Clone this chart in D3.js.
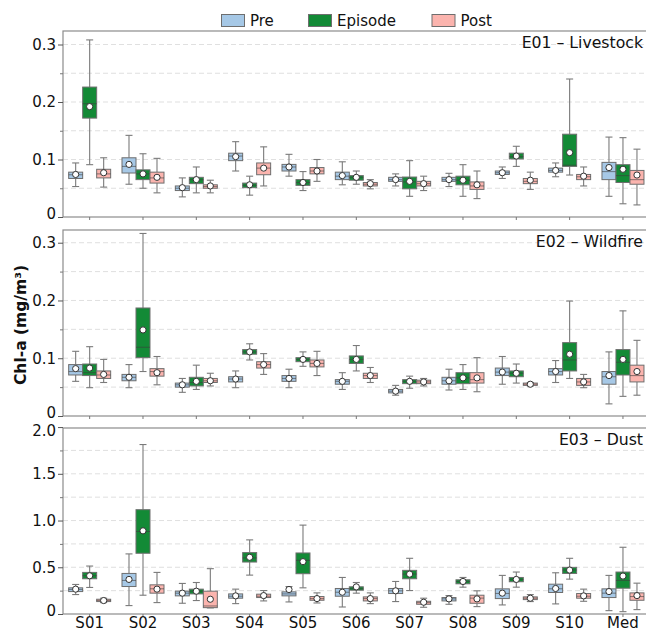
<!DOCTYPE html>
<html><head><meta charset="utf-8">
<script src="https://cdn.jsdelivr.net/npm/d3@7"></script>
<style>
html,body{margin:0;padding:0;background:#fff;}
text{font-family:"DejaVu Sans",sans-serif;}
</style></head>
<body>
<svg id="chart" width="646" height="632"></svg>
<script>
const sites = ["S01","S02","S03","S04","S05","S06","S07","S08","S09","S10","Med"];
const phases = ["Pre","Episode","Post"];
const phaseColors = ["#a6c8e6","#138a36","#fbb4ae"];
const events = ["E01 – Livestock","E02 – Wildfire","E03 – Dust"];
const yMaxes = [0.3235, 0.322, 1.99];
const yTicksSmall = [0, 0.1, 0.2, 0.3];
const yMinorSmall = [0.05, 0.1, 0.15, 0.2, 0.25, 0.3];
const yTicksLarge = [0, 0.5, 1.0, 1.5, 2.0];
const yMinorLarge = [0.25, 0.5, 0.75, 1.0, 1.25, 1.5, 1.75];
const yLabel = "Chl-a (mg/m³)";

// each entry: [whiskerLow, q1, median, q3, whiskerHigh, mean]
const e01Pre = [[0.053,0.067,0.0735,0.078,0.094,0.074],[0.057,0.0765,0.088,0.103,0.142,0.0915],[0.035,0.046,0.050,0.054,0.068,0.051],[0.080,0.098,0.106,0.111,0.131,0.105],[0.071,0.080,0.087,0.0915,0.109,0.087],[0.056,0.065,0.071,0.078,0.096,0.072],[0.054,0.062,0.065,0.069,0.075,0.065],[0.053,0.062,0.065,0.069,0.076,0.065],[0.067,0.074,0.077,0.080,0.087,0.077],[0.070,0.078,0.081,0.085,0.094,0.081],[0.036,0.065,0.079,0.095,0.139,0.086]];
const e01Episode = [[0.091,0.172,0.197,0.226,0.308,0.192],[0.050,0.065,0.075,0.082,0.110,0.075],[0.042,0.058,0.065,0.069,0.087,0.065],[0.038,0.051,0.055,0.059,0.071,0.056],[0.046,0.055,0.060,0.065,0.079,0.060],[0.057,0.064,0.069,0.072,0.080,0.069],[0.036,0.049,0.061,0.0695,0.098,0.062],[0.036,0.056,0.064,0.071,0.091,0.064],[0.088,0.101,0.105,0.111,0.123,0.106],[0.073,0.088,0.090,0.144,0.240,0.112],[0.023,0.060,0.072,0.091,0.138,0.083]];
const e01Post = [[0.052,0.068,0.075,0.083,0.103,0.077],[0.042,0.059,0.068,0.078,0.102,0.069],[0.042,0.050,0.053,0.056,0.064,0.054],[0.054,0.0735,0.085,0.094,0.122,0.085],[0.062,0.075,0.080,0.086,0.100,0.080],[0.049,0.054,0.057,0.060,0.065,0.058],[0.046,0.054,0.058,0.062,0.071,0.058],[0.032,0.048,0.054,0.061,0.080,0.056],[0.048,0.058,0.062,0.067,0.078,0.064],[0.054,0.065,0.070,0.074,0.087,0.071],[0.021,0.057,0.065,0.081,0.118,0.073]];

const e02Pre = [[0.060,0.071,0.077,0.089,0.112,0.082],[0.049,0.061,0.067,0.072,0.089,0.067],[0.041,0.050,0.054,0.057,0.065,0.054],[0.049,0.059,0.064,0.068,0.078,0.064],[0.049,0.060,0.065,0.070,0.081,0.065],[0.046,0.055,0.060,0.063,0.075,0.060],[0.036,0.040,0.043,0.046,0.053,0.043],[0.045,0.055,0.061,0.067,0.081,0.061],[0.055,0.070,0.076,0.083,0.103,0.076],[0.058,0.071,0.077,0.082,0.096,0.077],[0.021,0.055,0.068,0.077,0.111,0.070]];
const e02Episode = [[0.049,0.070,0.075,0.090,0.120,0.083],[0.077,0.101,0.119,0.187,0.316,0.149],[0.046,0.052,0.058,0.067,0.088,0.060],[0.097,0.107,0.111,0.115,0.125,0.111],[0.086,0.094,0.098,0.101,0.111,0.098],[0.078,0.091,0.098,0.104,0.122,0.098],[0.048,0.056,0.060,0.063,0.069,0.060],[0.046,0.056,0.066,0.075,0.089,0.066],[0.057,0.068,0.074,0.078,0.090,0.074],[0.065,0.078,0.097,0.127,0.199,0.107],[0.034,0.071,0.093,0.115,0.182,0.098]];
const e02Post = [[0.058,0.065,0.071,0.078,0.098,0.072],[0.054,0.069,0.077,0.082,0.103,0.075],[0.052,0.058,0.061,0.065,0.074,0.061],[0.072,0.083,0.089,0.094,0.108,0.089],[0.070,0.085,0.091,0.097,0.112,0.091],[0.058,0.065,0.070,0.074,0.084,0.070],[0.052,0.056,0.059,0.062,0.065,0.059],[0.042,0.057,0.063,0.075,0.101,0.066],[0.052,0.053,0.055,0.057,0.058,0.055],[0.049,0.053,0.059,0.065,0.072,0.059],[0.036,0.059,0.070,0.088,0.131,0.077]];

const e03Pre = [[0.208,0.240,0.262,0.280,0.316,0.266],[0.090,0.294,0.359,0.434,0.643,0.370],[0.115,0.194,0.223,0.244,0.327,0.223],[0.111,0.169,0.190,0.215,0.266,0.194],[0.129,0.194,0.215,0.237,0.294,0.262],[0.075,0.190,0.233,0.273,0.391,0.233],[0.133,0.219,0.248,0.273,0.348,0.248],[0.104,0.140,0.162,0.176,0.197,0.162],[0.097,0.165,0.220,0.269,0.413,0.223],[0.108,0.230,0.270,0.319,0.441,0.273],[0.036,0.176,0.223,0.269,0.413,0.240]];
const e03Episode = [[0.284,0.377,0.410,0.445,0.513,0.409],[0.201,0.650,0.883,1.116,1.813,0.890],[0.144,0.215,0.244,0.266,0.337,0.244],[0.416,0.556,0.600,0.657,0.793,0.607],[0.280,0.431,0.574,0.653,0.951,0.560],[0.223,0.255,0.270,0.291,0.337,0.290],[0.251,0.377,0.427,0.467,0.596,0.427],[0.287,0.323,0.348,0.366,0.391,0.348],[0.287,0.345,0.370,0.391,0.449,0.370],[0.373,0.434,0.470,0.499,0.596,0.470],[0.025,0.276,0.359,0.449,0.714,0.406]];
const e03Post = [[0.122,0.133,0.145,0.158,0.169,0.144],[0.122,0.223,0.270,0.312,0.445,0.266],[0.065,0.068,0.086,0.244,0.485,0.158],[0.140,0.176,0.190,0.212,0.251,0.197],[0.118,0.147,0.165,0.187,0.226,0.165],[0.111,0.140,0.165,0.183,0.226,0.165],[0.072,0.104,0.122,0.136,0.169,0.126],[0.079,0.115,0.170,0.201,0.248,0.162],[0.133,0.154,0.169,0.183,0.208,0.169],[0.136,0.169,0.190,0.219,0.266,0.194],[0.047,0.147,0.187,0.226,0.330,0.197]];

const eventData = [[e01Pre,e01Episode,e01Post],[e02Pre,e02Episode,e02Post],[e03Pre,e03Episode,e03Post]];

const svg = d3.select("#chart");
const left = 63, step = 53.33;
const panelTops = [31, 230, 428];
const panelH = 186;

const x = d3.scaleBand().domain(sites).range([left, left + step * sites.length]).padding(0);
const xSub = d3.scaleBand().domain(phases).range([-21, 21]).padding(0);
const color = d3.scaleOrdinal().domain(phases).range(phaseColors);

const fmt = v => v === 0 ? "0" : d3.format(".1f")(v);

eventData.forEach((series, pi) => {
  const top = panelTops[pi];
  const bottom = top + panelH;
  const big = pi === 2;
  const y = d3.scaleLinear().domain([0, yMaxes[pi]]).range([bottom, top]);
  const g = svg.append("g");

  const minor = big ? yMinorLarge : yMinorSmall;
  g.append("g").selectAll("line").data(minor).join("line")
    .attr("x1", left).attr("x2", 646)
    .attr("y1", d => y(d)).attr("y2", d => y(d))
    .attr("stroke", "#d9d9d9").attr("stroke-width", 1)
    .attr("stroke-dasharray", "5,3").attr("opacity", 0.8);

  g.append("rect").attr("x", left).attr("y", top)
    .attr("width", 700).attr("height", panelH)
    .attr("fill", "none").attr("stroke", "#8c8c8c").attr("stroke-width", 1.2);

  const major = big ? yTicksLarge : yTicksSmall;
  const yAxis = d3.axisLeft(y).tickValues(major)
    .tickFormat(fmt).tickSize(5).tickPadding(2);
  const ya = g.append("g").attr("transform", `translate(${left},0)`).call(yAxis);
  ya.select(".domain").remove();
  ya.selectAll(".tick line").attr("stroke", "#555");
  ya.selectAll("text").attr("font-size", 15).attr("fill", "#111");
  ya.selectAll(".tick text").filter(d => d === 0).attr("dy", "0.12em");
  if (big) ya.selectAll(".tick text").filter(d => d === 2.0).attr("dy", "0.55em");
  const yMinAxis = d3.axisLeft(y).tickValues(minor.filter(v => !major.includes(v)))
    .tickFormat("").tickSize(3);
  const ym = g.append("g").attr("transform", `translate(${left},0)`).call(yMinAxis);
  ym.select(".domain").remove();
  ym.selectAll(".tick line").attr("stroke", "#777");

  const xAxis = d3.axisBottom(x).tickSize(3).tickPadding(0.5).tickFormat(pi === 2 ? (d => d) : "");
  const xa = g.append("g").attr("transform", `translate(0,${bottom})`).call(xAxis);
  xa.select(".domain").remove();
  xa.selectAll(".tick line").attr("stroke", "#777");
  xa.selectAll("text").attr("font-size", 15).attr("fill", "#111");

  phases.forEach((ph, k) => {
    const data = series[k];
    const gg = g.append("g");
    const items = gg.selectAll("g.box").data(data.map((d, i) => ({site: sites[i], s: d}))).join("g").attr("class", "box");
    const cx = d => x(d.site) + x.bandwidth() / 2 + xSub(ph) + xSub.bandwidth() / 2;
    const bw = xSub.bandwidth();
    items.append("line").attr("x1", cx).attr("x2", cx)
      .attr("y1", d => y(d.s[3])).attr("y2", d => y(d.s[4]))
      .attr("stroke", "#7a7a7a").attr("stroke-width", 1.1);
    items.append("line").attr("x1", cx).attr("x2", cx)
      .attr("y1", d => y(d.s[1])).attr("y2", d => y(d.s[0]))
      .attr("stroke", "#7a7a7a").attr("stroke-width", 1.1);
    [0, 4].forEach(idx => {
      items.append("line")
        .attr("x1", d => cx(d) - bw / 4).attr("x2", d => cx(d) + bw / 4)
        .attr("y1", d => y(d.s[idx])).attr("y2", d => y(d.s[idx]))
        .attr("stroke", "#7a7a7a").attr("stroke-width", 1.1);
    });
    items.append("rect")
      .attr("x", d => cx(d) - bw / 2).attr("width", bw)
      .attr("y", d => y(d.s[3])).attr("height", d => Math.max(1, y(d.s[1]) - y(d.s[3])))
      .attr("fill", color(ph)).attr("stroke", "#6e6e6e").attr("stroke-width", 1);
    items.append("line")
      .attr("x1", d => cx(d) - bw / 2).attr("x2", d => cx(d) + bw / 2)
      .attr("y1", d => y(d.s[2])).attr("y2", d => y(d.s[2]))
      .attr("stroke", "#3c3c3c").attr("stroke-opacity", 0.55).attr("stroke-width", 1.1);
    items.append("circle")
      .attr("cx", cx).attr("cy", d => y(d.s[5])).attr("r", 3.1)
      .attr("fill", "#fff").attr("stroke", "#333").attr("stroke-width", 1);
  });

  g.append("text").attr("x", 643).attr("y", top + 17)
    .attr("text-anchor", "end").attr("font-size", 15.7).attr("fill", "#111")
    .text(events[pi]);
});

svg.append("text")
  .attr("transform", "translate(21,325) rotate(-90)")
  .attr("text-anchor", "middle").attr("dominant-baseline", "middle")
  .attr("font-size", 15.5).attr("font-weight", "bold")
  .attr("fill", "#111").text(yLabel);

const legendX = [221.5, 308.5, 432];
const lg = svg.append("g");
phases.forEach((ph, k) => {
  lg.append("rect").attr("x", legendX[k]).attr("y", 14.5).attr("width", 23).attr("height", 12)
    .attr("fill", color(ph)).attr("stroke", "#6e6e6e").attr("stroke-width", 1);
  lg.append("text").attr("x", legendX[k] + 28.5).attr("y", 26)
    .attr("font-size", 15).attr("fill", "#111").text(ph);
});
</script>
</body></html>
